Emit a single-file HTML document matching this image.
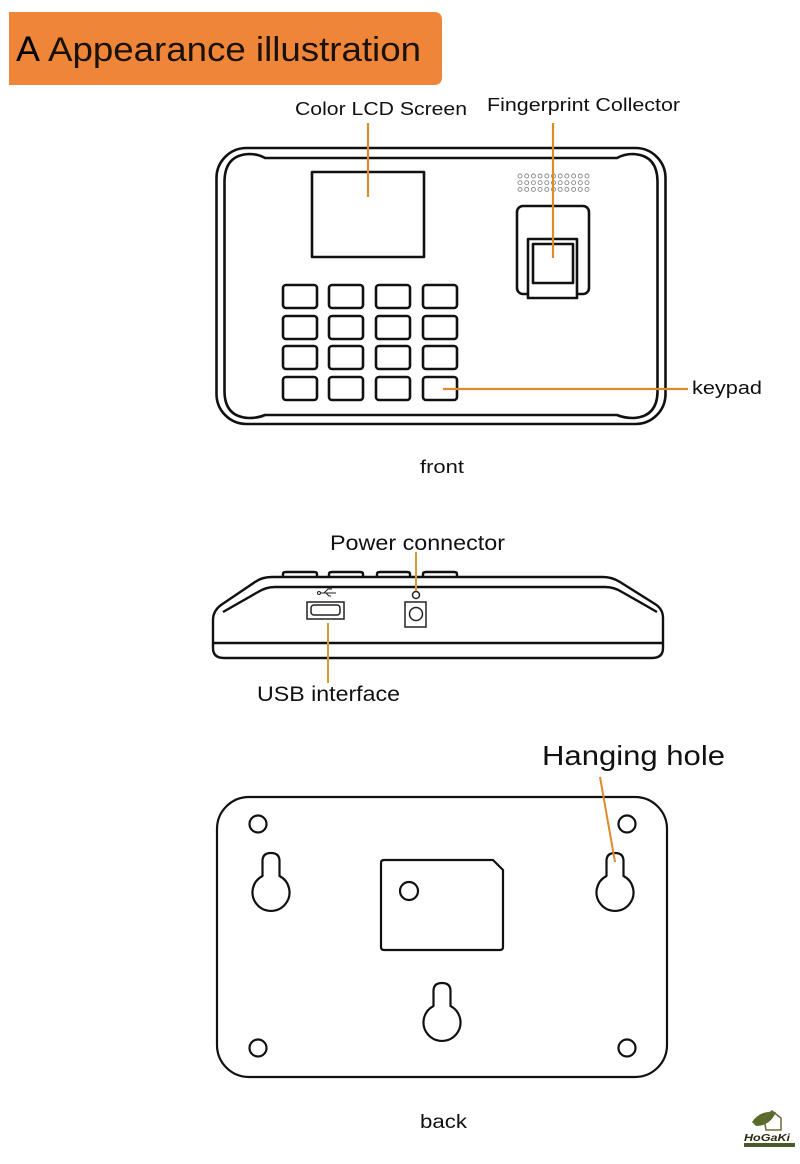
<!DOCTYPE html>
<html><head><meta charset="utf-8"><style>
html,body{margin:0;padding:0;background:#fff;}
svg{display:block;}
text{font-family:"Liberation Sans",Arial,sans-serif;fill:#111;}
</style></head><body>
<svg width="800" height="1164" viewBox="0 0 800 1164" xmlns="http://www.w3.org/2000/svg">
<!-- header -->
<path d="M9,12 L434,12 Q442,12 442,20 L442,77 Q442,85 434,85 L9,85 Z" fill="#ef8538"/>
<text x="16" y="61" font-size="35" style="fill:#000" textLength="24" lengthAdjust="spacingAndGlyphs">A</text>
<text x="48" y="61" font-size="34" style="fill:#1a1208" textLength="373" lengthAdjust="spacingAndGlyphs">Appearance illustration</text>

<!-- FRONT -->
<g fill="none" stroke="#111" stroke-width="2.6" stroke-linejoin="round">
<rect x="216.5" y="148" width="449" height="276" rx="30"/>
<path d="M265,158 Q258,154 249,154 Q225,155 224.5,181 L224.5,392 Q225,417 249,418 Q258,418 265,415 L617,415 Q624,418 633,418 Q657,417 657.5,392 L657.5,181 Q657,155 633,154 Q624,154 617,158 Z"/>
<rect x="312" y="172" width="112" height="85"/>
<!-- keys -->
<rect x="283" y="285" width="34" height="23" rx="3"/>
<rect x="329" y="285" width="34" height="23" rx="3"/>
<rect x="376" y="285" width="34" height="23" rx="3"/>
<rect x="423" y="285" width="34" height="23" rx="3"/>
<rect x="283" y="316" width="34" height="23" rx="3"/>
<rect x="329" y="316" width="34" height="23" rx="3"/>
<rect x="376" y="316" width="34" height="23" rx="3"/>
<rect x="423" y="316" width="34" height="23" rx="3"/>
<rect x="283" y="346" width="34" height="23" rx="3"/>
<rect x="329" y="346" width="34" height="23" rx="3"/>
<rect x="376" y="346" width="34" height="23" rx="3"/>
<rect x="423" y="346" width="34" height="23" rx="3"/>
<rect x="283" y="377" width="34" height="23" rx="3"/>
<rect x="329" y="377" width="34" height="23" rx="3"/>
<rect x="376" y="377" width="34" height="23" rx="3"/>
<rect x="423" y="377" width="34" height="23" rx="3"/>
<!-- fingerprint -->
<rect x="517" y="206" width="72" height="88" rx="6"/>
<rect x="528" y="239" width="49" height="59" fill="#fff"/>
<rect x="533" y="244" width="40" height="39"/>
</g>
<!-- speaker dots -->
<g fill="none" stroke="#888" stroke-width="0.9">
<g id="dr">
<circle cx="520" cy="176" r="2"/><circle cx="526.7" cy="176" r="2"/><circle cx="533.4" cy="176" r="2"/><circle cx="540.1" cy="176" r="2"/><circle cx="546.8" cy="176" r="2"/><circle cx="553.5" cy="176" r="2"/><circle cx="560.2" cy="176" r="2"/><circle cx="566.9" cy="176" r="2"/><circle cx="573.6" cy="176" r="2"/><circle cx="580.3" cy="176" r="2"/><circle cx="587" cy="176" r="2"/>
</g>
<use href="#dr" y="6.7"/>
<use href="#dr" y="13.4"/>
</g>
<!-- front leaders -->
<g stroke="#dd8a2e" stroke-width="2.2">
<line x1="368" y1="123" x2="368" y2="197"/>
<line x1="553" y1="123" x2="553" y2="258"/>
<line x1="443" y1="389" x2="688" y2="389"/>
</g>
<text x="295" y="115" font-size="18" textLength="172" lengthAdjust="spacingAndGlyphs">Color LCD Screen</text>
<text x="487" y="111" font-size="18" textLength="193" lengthAdjust="spacingAndGlyphs">Fingerprint Collector</text>
<text x="692" y="394" font-size="18" textLength="70" lengthAdjust="spacingAndGlyphs">keypad</text>
<text x="420" y="473" font-size="18" textLength="44" lengthAdjust="spacingAndGlyphs">front</text>

<!-- SIDE -->
<g fill="none" stroke="#111" stroke-width="2.4" stroke-linejoin="round">
<path d="M283,577 L283,574 Q283,572 286,572 L314,572 Q317,572 317,574 L317,577"/>
<path d="M329,577 L329,574 Q329,572 332,572 L360,572 Q363,572 363,574 L363,577"/>
<path d="M377,577 L377,574 Q377,572 380,572 L407,572 Q410,572 410,574 L410,577"/>
<path d="M423,577 L423,574 Q423,572 426,572 L454,572 Q457,572 457,574 L457,577"/>
<path d="M272,577 L603,577 Q612,577 620,582 L655,604 Q663,609 663,618 L663,648 Q663,658 652,658 L224,658 Q213,658 213,648 L213,620 Q213,611 221,605 L255,582 Q262,577 272,577 Z"/>
<path d="M223,612 L258,592 Q266,587 275,587 L605,587 Q614,587 622,592 L657,612"/>
<line x1="214" y1="643" x2="662" y2="643"/>
</g>
<g fill="none" stroke="#222" stroke-width="1.5">
<rect x="307" y="602" width="37" height="17"/>
<rect x="311" y="605" width="29" height="10" rx="3"/>
<rect x="405" y="602" width="21" height="25"/>
<circle cx="416" cy="614" r="6.5"/>
<circle cx="416" cy="595" r="3.5"/>
<line x1="320" y1="593" x2="336" y2="593" stroke-width="1"/>
<circle cx="319" cy="593" r="1.5" stroke-width="1"/>
<path d="M324,593 L328,589 L332,589" stroke-width="1"/>
<path d="M326,593 L329,596 L331,596" stroke-width="1"/>
</g>
<g stroke="#dd9a2e" stroke-width="2">
<line x1="416" y1="552" x2="416" y2="591"/>
<line x1="328" y1="623" x2="328" y2="683"/>
</g>
<text x="330" y="550" font-size="21" textLength="175" lengthAdjust="spacingAndGlyphs">Power connector</text>
<text x="257" y="701" font-size="21" textLength="143" lengthAdjust="spacingAndGlyphs">USB interface</text>

<!-- BACK -->
<g fill="none" stroke="#111" stroke-width="2.2" stroke-linejoin="round">
<rect x="217" y="797" width="450" height="280" rx="32"/>
<circle cx="258" cy="824" r="8.5"/>
<circle cx="627" cy="824" r="8.5"/>
<circle cx="258" cy="1048" r="8.5"/>
<circle cx="627" cy="1048" r="8.5"/>
<path d="M262.5,876 L262.5,861 Q262.5,853 271,853 Q279.5,853 279.5,861 L279.5,876 A18.5,18.5 0 1 1 262.5,876 Z"/>
<path d="M606.5,876 L606.5,861 Q606.5,853 615,853 Q623.5,853 623.5,861 L623.5,876 A18.5,18.5 0 1 1 606.5,876 Z"/>
<path d="M433.5,1006 L433.5,991 Q433.5,983 442,983 Q450.5,983 450.5,991 L450.5,1006 A18.5,18.5 0 1 1 433.5,1006 Z"/>
<path d="M384,860 L493,860 L503,870 L503,947 Q503,950 500,950 L384,950 Q381,950 381,947 L381,863 Q381,860 384,860 Z"/>
<circle cx="409" cy="891" r="9"/>
</g>
<line x1="600" y1="777" x2="615" y2="862" stroke="#dd8a2e" stroke-width="2"/>
<text x="542" y="765" font-size="28" textLength="183" lengthAdjust="spacingAndGlyphs">Hanging hole</text>
<text x="420" y="1128" font-size="19" textLength="47" lengthAdjust="spacingAndGlyphs">back</text>

<!-- logo -->
<path d="M752,1122 Q760,1110 776,1112 Q770,1126 756,1126 Z" fill="#5a6a2a"/>
<path d="M764,1118 L772,1111 L781,1118 L781,1130 L766,1130 Z" fill="none" stroke="#6b6b3a" stroke-width="1.5"/>
<text x="744" y="1141" font-size="10" font-style="italic" font-weight="bold" style="fill:#2a2a10" textLength="46" lengthAdjust="spacingAndGlyphs">HoGaKi</text>
<rect x="744" y="1143" width="51" height="4" fill="#4a5a28"/>
</svg>
</body></html>
